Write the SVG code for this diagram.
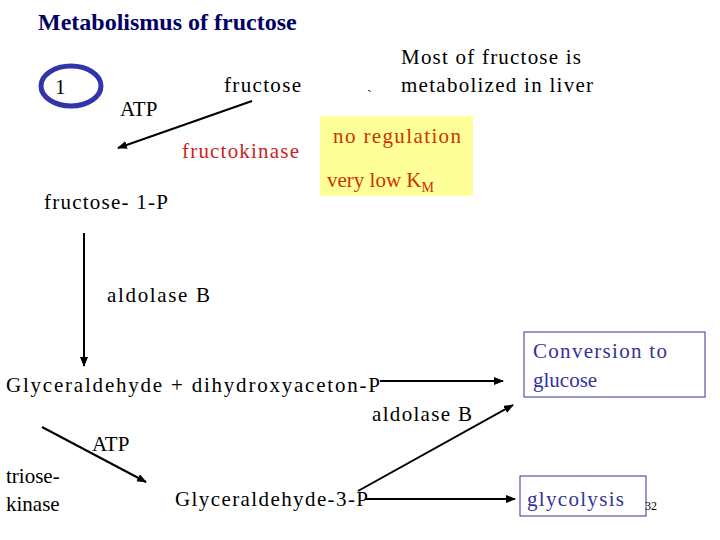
<svg xmlns="http://www.w3.org/2000/svg" width="720" height="540" viewBox="0 0 720 540">
<defs>
<marker id="a" markerWidth="10" markerHeight="8" refX="9" refY="4" orient="auto" markerUnits="userSpaceOnUse"><path d="M0,0L10,4L0,8z" fill="#000"/></marker>
<style>
.r{fill:#cc2222}.o{fill:#cc3300}.b{fill:#333399}
.c line{stroke:#000;stroke-width:2;marker-end:url(#a)}
</style>
</defs>
<rect width="720" height="540" fill="#fff"/>
<g font-family="'Liberation Serif', 'Times New Roman', 'DejaVu Serif', serif" font-size="21" fill="#000" xml:space="preserve">
<text x="38" y="30" font-weight="bold" font-size="24" fill="#000066">Metabolismus of fructose</text>
<g id="n1"><ellipse cx="71" cy="86" rx="30" ry="20" fill="none" stroke="#3333aa" stroke-width="5"/><text x="55" y="94">1</text></g>
<g id="fructose"><text x="224" y="92" textLength="77">fructose</text></g>
<g id="atp1"><text x="120" y="116">ATP</text></g>
<g id="fk"><text x="182" y="158" class="r" textLength="117">fructokinase</text></g>
<g id="note"><text x="367" y="100" font-size="14">`</text><text x="401" y="64" textLength="180">Most of fructose is</text><text x="401" y="92" textLength="192">metabolized in liver</text></g>
<g id="yellow"><rect x="320" y="116" width="153" height="80" fill="#ffff99"/><text x="333" y="143" class="o" textLength="128">no regulation</text><text x="327" y="187" class="o">very low K<tspan font-size="14" dy="5">M</tspan></text></g>
<g id="f1p"><text x="44" y="209" textLength="124">fructose- 1-P</text></g>
<g id="ald1"><text x="107" y="302" textLength="103">aldolase B</text></g>
<g id="gly"><text x="6" y="392" textLength="374">Glyceraldehyde  +  dihydroxyaceton-P</text></g>
<g id="ald2"><text x="372" y="421" textLength="100">aldolase B</text></g>
<g id="atp2"><text x="92" y="451">ATP</text></g>
<g id="tk"><text x="6" y="483">triose-</text><text x="6" y="511">kinase</text></g>
<g id="g3p"><text x="175" y="506" textLength="193">Glyceraldehyde-3-P</text></g>
<g id="conv"><rect x="524" y="332" width="181" height="65" fill="none" stroke="#333399"/><text x="533" y="358" class="b" textLength="134">Conversion to</text><text x="533" y="387" class="b">glucose</text></g>
<g id="glyc"><rect x="520" y="476" width="126" height="40" fill="none" stroke="#333399"/><text x="527" y="506" class="b" textLength="97">glycolysis</text></g>
<text x="645" y="510" font-size="12">32</text>
</g>
<g class="c" id="connectors">
<line x1="252" y1="101" x2="118" y2="148"/>
<line x1="84" y1="233" x2="84" y2="366"/>
<line x1="380" y1="381" x2="503" y2="381"/>
<line x1="42" y1="427" x2="146" y2="482"/>
<line x1="358" y1="491" x2="513" y2="405"/>
<line x1="365" y1="499" x2="515" y2="499"/>
</g>
</svg>
